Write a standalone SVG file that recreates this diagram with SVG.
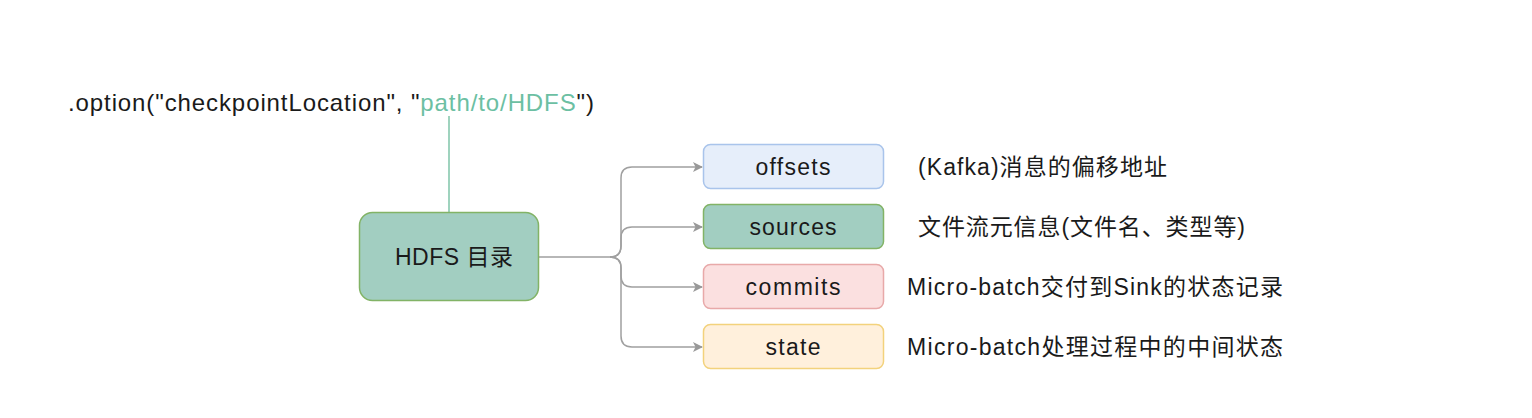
<svg xmlns="http://www.w3.org/2000/svg" width="1532" height="418" viewBox="0 0 1532 418">
<defs>
<marker id="arr" viewBox="0 0 10 10" refX="9" refY="5" markerWidth="10" markerHeight="10" markerUnits="userSpaceOnUse" orient="auto">
<path d="M0,0 L10,5 L0,10 L2.5,5 Z" fill="#999999"/>
</marker>
<style>
text{font-family:"Liberation Sans","Noto Sans CJK SC",sans-serif;fill:#1a1a1a;}
.lbl{font-size:23px;text-anchor:middle;dominant-baseline:central;}
.desc{font-size:23px;dominant-baseline:central;}
.edge{fill:none;stroke:#a0a0a0;stroke-width:1.5;}
</style>
</defs>
<rect width="1532" height="418" fill="#ffffff"/>
<text x="68" y="102" textLength="526" style="font-size:24px;dominant-baseline:central;">.option("checkpointLocation", "<tspan fill="#6cbfa3">path/to/HDFS</tspan>")</text>
<g id="connectors">
<line x1="449" y1="116" x2="449" y2="212" stroke="#7fc4a9" stroke-width="1.5"/>
<path class="edge" d="M539,257 H610 Q621,257 621,246 V178 Q621,167 632,167 H702" marker-end="url(#arr)"/>
<path class="edge" d="M610,257 Q621,257 621,246 V238 Q621,227 632,227 H702" marker-end="url(#arr)"/>
<path class="edge" d="M610,257 Q621,257 621,268 V276 Q621,287 632,287 H702" marker-end="url(#arr)"/>
<path class="edge" d="M610,257 Q621,257 621,268 V336 Q621,347 632,347 H702" marker-end="url(#arr)"/>
</g>
<g id="hdfs">
<rect x="359.5" y="212.5" width="179" height="88" rx="13" fill="#a2cec1" stroke="#82b366" stroke-width="1.5"/>
<text class="lbl" x="454" y="257" textLength="118">HDFS 目录</text>
</g>
<g id="offsets">
<rect x="703.5" y="144.5" width="180" height="44" rx="7" fill="#e6eefa" stroke="#a9c4eb" stroke-width="1.5"/>
<text class="lbl" x="793" y="167" textLength="75">offsets</text>
</g>
<g id="sources">
<rect x="703.5" y="204.5" width="180" height="44" rx="7" fill="#a2cec1" stroke="#82b366" stroke-width="1.5"/>
<text class="lbl" x="793" y="227" textLength="87">sources</text>
</g>
<g id="commits">
<rect x="703.5" y="264.5" width="180" height="44" rx="7" fill="#fbe0e0" stroke="#e8a9a9" stroke-width="1.5"/>
<text class="lbl" x="793" y="287" textLength="95">commits</text>
</g>
<g id="state">
<rect x="703.5" y="324.5" width="180" height="44" rx="7" fill="#fff0dc" stroke="#f3d27c" stroke-width="1.5"/>
<text class="lbl" x="793" y="347" textLength="55">state</text>
</g>
<g id="descriptions">
<text class="desc" x="918" y="167" textLength="249">(Kafka)消息的偏移地址</text>
<text class="desc" x="918" y="227" textLength="327">文件流元信息(文件名、类型等)</text>
<text class="desc" x="907" y="287" textLength="376">Micro-batch交付到Sink的状态记录</text>
<text class="desc" x="907" y="347" textLength="376">Micro-batch处理过程中的中间状态</text>
</g>
</svg>
